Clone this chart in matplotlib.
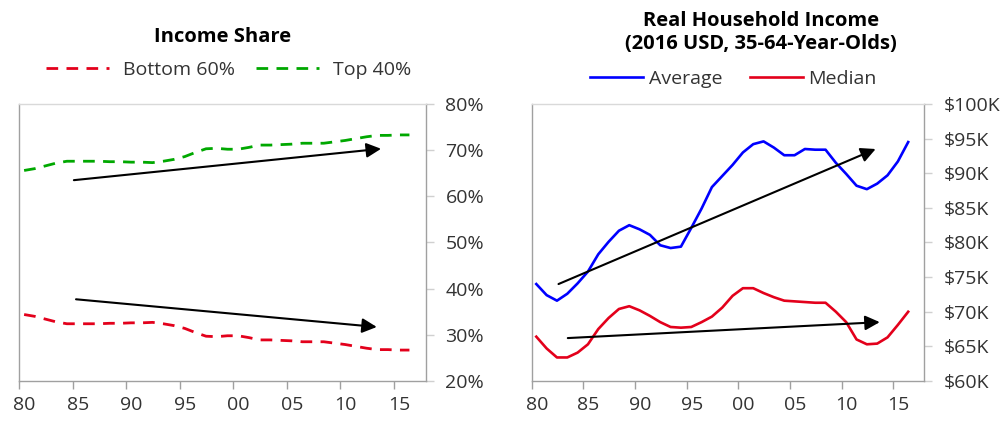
import numpy as np
import matplotlib
matplotlib.use("Agg")
import matplotlib.pyplot as plt

plt.rcParams['font.family'] = ['Open Sans', 'DejaVu Sans']

# Data
years = np.arange(1980, 2017)
top40 = [65.6, 66.0, 66.6, 67.2, 67.6, 67.6, 67.6, 67.6, 67.5, 67.5,
         67.4, 67.4, 67.3, 67.6, 68.0, 68.6, 69.5, 70.3, 70.4, 70.2,
         70.2, 70.6, 71.1, 71.1, 71.2, 71.3, 71.5, 71.5, 71.5, 71.8,
         72.1, 72.5, 72.9, 73.2, 73.2, 73.3, 73.3]
bottom60 = [34.4, 34.0, 33.4, 32.8, 32.4, 32.4, 32.4, 32.4, 32.5, 32.5,
            32.6, 32.6, 32.7, 32.4, 32.0, 31.4, 30.5, 29.7, 29.6, 29.8,
            29.8, 29.4, 28.9, 28.9, 28.8, 28.7, 28.5, 28.5, 28.5, 28.2,
            27.9, 27.5, 27.1, 26.8, 26.8, 26.7, 26.7]
average = [74.0, 72.4, 71.6, 72.6, 74.1, 75.8, 78.3, 80.1, 81.7, 82.5,
           81.9, 81.1, 79.6, 79.2, 79.4, 82.1, 84.9, 88.0, 89.6, 91.2,
           93.0, 94.2, 94.6, 93.7, 92.6, 92.6, 93.5, 93.4, 93.4, 91.5,
           89.9, 88.2, 87.7, 88.5, 89.7, 91.7, 94.5]
median = [66.4, 64.7, 63.4, 63.4, 64.1, 65.3, 67.5, 69.1, 70.4, 70.8,
          70.2, 69.4, 68.5, 67.8, 67.7, 67.8, 68.5, 69.3, 70.6, 72.3,
          73.4, 73.4, 72.7, 72.1, 71.6, 71.5, 71.4, 71.3, 71.3, 70.0,
          68.5, 66.0, 65.3, 65.4, 66.3, 68.1, 70.0]

# trend arrows: (x0, y0, x1, y1)
share_arrows = [(1985.1, 63.5, 2013.8, 70.3), (1985.3, 37.7, 2013.4, 31.7)]
income_arrows = [(1982.6, 74.0, 2013.3, 93.5), (1983.5, 66.2, 2013.7, 68.5)]

xtick_years = [1980, 1985, 1990, 1995, 2000, 2005, 2010, 2015]
xtick_labels = ['80', '85', '90', '95', '00', '05', '10', '15']
share_ticks = [20, 30, 40, 50, 60, 70, 80]
share_labels = ['20%', '30%', '40%', '50%', '60%', '70%', '80%']
income_ticks = [60, 65, 70, 75, 80, 85, 90, 95, 100]
income_labels = ['$60K', '$65K', '$70K', '$75K', '$80K', '$85K', '$90K', '$95K', '$100K']

RED = '#e3001b'
GREEN = '#00a800'
BLUE = '#0000ff'
TXT = '#333333'
SPINE = '#a0a0a0'
FS = 14

fig = plt.figure(figsize=(10.05, 4.21), dpi=100)
ax1 = fig.add_axes([0.0192, 0.095, 0.4047, 0.658])
ax2 = fig.add_axes([0.529, 0.095, 0.3906, 0.658])

x = years + 0.45


def style_axis(ax, yticks, ylabels, ylim):
    ax.set_xlim(1980, 2018)
    ax.set_ylim(*ylim)
    ax.yaxis.tick_right()
    ax.set_yticks(yticks)
    ax.set_yticklabels(ylabels)
    ax.tick_params(axis='y', length=6, width=1, color='#d0d0d0', pad=8,
                   labelsize=FS, labelcolor=TXT)
    ax.set_xticks(xtick_years)
    ax.set_xticklabels([])
    ax.set_xticks([y + 0.5 for y in xtick_years], minor=True)
    ax.set_xticklabels(xtick_labels, minor=True)
    ax.tick_params(axis='x', which='major', length=6, width=1, color=SPINE)
    ax.tick_params(axis='x', which='minor', length=0, pad=11,
                   labelsize=FS, labelcolor=TXT)
    for s in ['left', 'bottom', 'right']:
        ax.spines[s].set_color(SPINE)
        ax.spines[s].set_linewidth(1)
    ax.spines['top'].set_color('#d9d9d9')
    ax.spines['top'].set_linewidth(1)


def draw_arrows(ax, arrows):
    for x0, y0, x1, y1 in arrows:
        ax.annotate('', xy=(x1, y1), xytext=(x0, y0),
                    arrowprops=dict(arrowstyle='-|>', color='black', lw=1.5,
                                    mutation_scale=22, shrinkA=0, shrinkB=0))


# Left: income share
ax1.plot(x, bottom60, color=RED, lw=2, dashes=(4.2, 3), label='Bottom 60%')
ax1.plot(x, top40, color=GREEN, lw=2, dashes=(4.2, 3), label='Top 40%')
style_axis(ax1, share_ticks, share_labels, (20, 80))
draw_arrows(ax1, share_arrows)

# Right: real household income
ax2.plot(x, average, color=BLUE, lw=1.9, label='Average')
ax2.plot(x, median, color=RED, lw=1.9, label='Median')
style_axis(ax2, income_ticks, income_labels, (60, 100))
draw_arrows(ax2, income_arrows)

# Titles
fig.text(222.7 / 1005, 1 - 37 / 421, 'Income Share', ha='center', va='center',
         fontsize=14.5, fontweight='bold', color='black')
fig.text(761 / 1005, 1 - 32 / 421, 'Real Household Income\n(2016 USD, 35-64-Year-Olds)',
         ha='center', va='center', fontsize=14.5, fontweight='bold', color='black',
         linespacing=1.2)

# Legends
h1, l1 = ax1.get_legend_handles_labels()
fig.legend(h1, l1, loc='center', bbox_to_anchor=(228.5 / 1005, 1 - 70 / 421),
           ncol=2, frameon=False, fontsize=FS, handlelength=3.25,
           handletextpad=0.72, columnspacing=1.08, labelcolor=TXT,
           borderpad=0, borderaxespad=0)
h2, l2 = ax2.get_legend_handles_labels()
fig.legend(h2, l2, loc='center', bbox_to_anchor=(733.5 / 1005, 1 - 79 / 421),
           ncol=2, frameon=False, fontsize=FS, handlelength=2.73,
           handletextpad=0.3, columnspacing=1.4, labelcolor=TXT,
           borderpad=0, borderaxespad=0)

fig.savefig('out.png', dpi=100)
